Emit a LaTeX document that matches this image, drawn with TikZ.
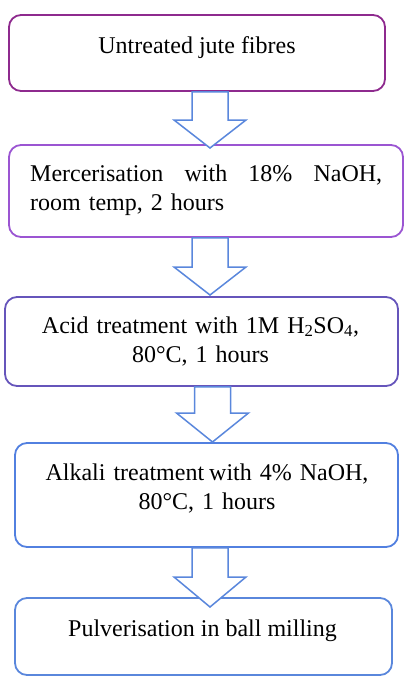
\documentclass[tikz,border=0pt]{standalone}
\usepackage{fontspec}
\setmainfont{Liberation Serif}
\usetikzlibrary{calc}
\definecolor{cA}{RGB}{142,42,142}
\definecolor{cB}{RGB}{155,85,210}
\definecolor{cC}{RGB}{102,85,187}
\definecolor{cD}{RGB}{82,128,224}
\definecolor{cE}{RGB}{90,135,220}
\definecolor{cArr}{RGB}{90,135,220}
\newcommand{\flowarrow}[4]{% from node, x centre, y head start, y tip
  \draw[flowarr] (#2-18,0 |- #1.south) -- (#2-18,#3) -- (#2-36,#3) -- (#2,#4)
    -- (#2+36,#3) -- (#2+18,#3) -- (#2+18,0 |- #1.south) -- cycle;}
\begin{document}
\begin{tikzpicture}[x=1pt,y=-1pt,
  box/.style={draw, line width=1.8pt, rounded corners=12pt, inner sep=0pt, fill=white},
  txt/.style={inner sep=0pt, font=\fontsize{24}{29}\selectfont},
  flowarr/.style={draw=cArr, line width=1.5pt, fill=white, line join=miter}]
\useasboundingbox (0,0) rectangle (416,691);
% boxes
\node[box, draw=cA, minimum width=376pt, minimum height=76pt] (b1) at (197,53) {};
\node[box, draw=cB, minimum width=394pt, minimum height=92pt] (b2) at (206,191) {};
\node[box, draw=cC, minimum width=393pt, minimum height=89pt] (b3) at (201.5,341.5) {};
\node[box, draw=cD, minimum width=383pt, minimum height=104pt] (b4) at (206.5,495) {};
\node[box, draw=cE, minimum width=377pt, minimum height=77pt] (b5) at (203.5,636.5) {};
% texts
\node[txt, anchor=base] (t1) at (197,53.3) {Untreated jute fibres};
\node[txt, anchor=base west, text width=352pt, align=left] (t2) at (30,181.7)
  {\makebox[352pt]{Mercerisation\hfill with\hfill 18\%\hfill NaOH,}\\room temp, 2 hours};
\node[txt, anchor=base, text width=370pt, align=center] (t3) at (200.5,333)
  {Acid treatment with 1M H\textsubscript{2}SO\textsubscript{4},\\80°C, 1 hours};
\node[txt, anchor=base, text width=370pt, align=center] (t4) at (207,480)
  {Alkali treatment\hspace{-3pt} with 4\% NaOH,\\80°C, 1 hours};
\node[txt, anchor=base] (t5) at (202.5,636) {Pulverisation in ball milling};
% arrows
\flowarrow{b1}{210}{120}{148}
\flowarrow{b2}{210}{267}{295}
\flowarrow{b3}{212.5}{413}{442}
\flowarrow{b4}{210}{577}{607}
\end{tikzpicture}
\end{document}
